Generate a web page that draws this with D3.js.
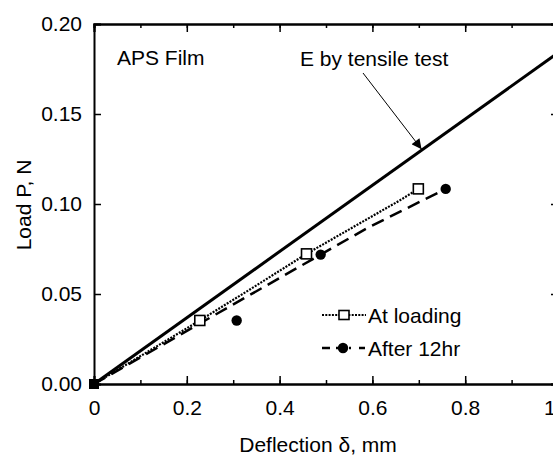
<!DOCTYPE html>
<html><head><meta charset="utf-8">
<script src="https://cdn.jsdelivr.net/npm/d3@7"></script>
<style>
body{margin:0;background:#fff;}
svg{display:block;font-family:"Liberation Sans",Arial,sans-serif;}
</style></head>
<body>
<svg id="c" width="553" height="457"></svg>
<script>
// Data
const xTicks = [0, 0.2, 0.4, 0.6, 0.8, 1.0];
const xTickLabels = ["0", "0.2", "0.4", "0.6", "0.8", "1.0"];
const yTicks = [0, 0.05, 0.10, 0.15, 0.20];
const yTickLabels = ["0.00", "0.05", "0.10", "0.15", "0.20"];
const tensileLine = [[0, 0], [1.0, 0.184]];
const loadingCurve = [[0, 0], [0.228, 0.0353], [0.336, 0.0525], [0.458, 0.0723], [0.659, 0.1020], [0.699, 0.1084]];
const loadingPoints = [[0.228, 0.0353], [0.458, 0.0723], [0.699, 0.1084]];
const after12Curve = [[0, 0], [0.264, 0.0389], [0.4885, 0.0719], [0.588, 0.0865], [0.758, 0.1084]];
const after12Points = [[0.3075, 0.0353], [0.4885, 0.0719], [0.758, 0.1084]];
const originPoint = [[0, 0]];
const seriesNames = ["At loading", "After 12hr"];

const svg = d3.select("#c");
const L = 94, R = 558, T = 24, B = 384;
const x = d3.scaleLinear().domain([0, 1.0]).range([L, R]);
const y = d3.scaleLinear().domain([0, 0.20]).range([B, T]);

const fs = 21;
// axes (inward ticks)
const gB = svg.append("g").attr("transform", `translate(0,${B})`)
  .call(d3.axisBottom(x).tickValues(d3.range(0, 1.01, 0.1)).tickSize(-4).tickFormat(""));
const gB2 = svg.append("g").attr("transform", `translate(0,${B})`)
  .call(d3.axisBottom(x).tickValues(xTicks).tickSize(-8).tickPadding(16).tickFormat((d, i) => xTickLabels[i]));
const gT = svg.append("g").attr("transform", `translate(0,${T})`)
  .call(d3.axisTop(x).tickValues(d3.range(0, 1.01, 0.1)).tickSize(-4).tickFormat(""));
const gT2 = svg.append("g").attr("transform", `translate(0,${T})`)
  .call(d3.axisTop(x).tickValues(xTicks).tickSize(-8).tickFormat(""));
const gL = svg.append("g").attr("transform", `translate(${L},0)`)
  .call(d3.axisLeft(y).tickValues(yTicks).tickSize(-7).tickPadding(12).tickFormat((d, i) => yTickLabels[i]));
const gR = svg.append("g").attr("transform", `translate(${R},0)`)
  .call(d3.axisRight(y).tickValues(yTicks).tickSize(-7).tickFormat(""));
[gB, gB2, gT, gT2, gL, gR].forEach(g => {
  g.select(".domain").attr("stroke", "#000").attr("stroke-width", 2);
  g.selectAll(".tick line").attr("stroke", "#000").attr("stroke-width", 1.5);
  g.selectAll("text").attr("fill", "#000").attr("font-size", fs)
    .attr("font-family", "Liberation Sans, Arial, sans-serif");
});

// titles
svg.append("text").attr("x", 318).attr("y", 452).attr("text-anchor", "middle")
  .attr("font-size", fs).text("Deflection δ, mm");
svg.append("text").attr("transform", "translate(31,205) rotate(-90)").attr("text-anchor", "middle")
  .attr("font-size", fs).text("Load P, N");

// annotations
svg.append("text").attr("x", 117).attr("y", 64.5).attr("font-size", fs).text("APS Film");
svg.append("text").attr("x", 300).attr("y", 66).attr("font-size", fs).text("E by tensile test");
svg.append("defs").append("marker").attr("id", "ah").attr("viewBox", "0 0 10 10")
  .attr("refX", 10).attr("refY", 5).attr("markerWidth", 14).attr("markerHeight", 10)
  .attr("markerUnits", "userSpaceOnUse").attr("orient", "auto")
  .append("path").attr("d", "M0,0 L10,5 L0,10 Z").attr("fill", "#000");
svg.append("line").attr("x1", 363).attr("y1", 73).attr("x2", x(0.706)).attr("y2", y(0.706 * 0.184) - 1)
  .attr("stroke", "#000").attr("stroke-width", 1).attr("marker-end", "url(#ah)");

const line = d3.line().x(d => x(d[0])).y(d => y(d[1]));
// tensile line
svg.append("path").attr("d", line(tensileLine)).attr("fill", "none").attr("stroke", "#000").attr("stroke-width", 3);
// at loading dotted
svg.append("path").attr("d", line(loadingCurve)).attr("fill", "none").attr("stroke", "#000")
  .attr("stroke-width", 2.2).attr("stroke-dasharray", "2,1.3");
// after 12hr dashed
svg.append("path").attr("d", line(after12Curve)).attr("fill", "none").attr("stroke", "#000")
  .attr("stroke-width", 2.5).attr("stroke-dasharray", "13,7");

const sq = 10;
svg.selectAll(".sq").data(loadingPoints).enter().append("rect")
  .attr("x", d => x(d[0]) - sq / 2).attr("y", d => y(d[1]) - sq / 2)
  .attr("width", sq).attr("height", sq).attr("fill", "#fff").attr("stroke", "#000").attr("stroke-width", 1.6);
svg.selectAll(".ci").data(after12Points).enter().append("circle")
  .attr("cx", d => x(d[0])).attr("cy", d => y(d[1])).attr("r", 5.2).attr("fill", "#000");
svg.selectAll(".or").data(originPoint).enter().append("rect")
  .attr("x", d => x(d[0]) - 5).attr("y", d => y(d[1]) - 5).attr("width", 10).attr("height", 10).attr("fill", "#000");

// legend
const lg = svg.append("g");
const ly = [315, 348];
lg.append("line").attr("x1", 322).attr("x2", 366).attr("y1", ly[0]).attr("y2", ly[0])
  .attr("stroke", "#000").attr("stroke-width", 2.2).attr("stroke-dasharray", "2,1.3");
lg.append("rect").attr("x", 344 - 5).attr("y", ly[0] - 4.5).attr("width", 10).attr("height", 9)
  .attr("fill", "#fff").attr("stroke", "#000").attr("stroke-width", 1.6);
lg.append("line").attr("x1", 322).attr("x2", 366).attr("y1", ly[1]).attr("y2", ly[1])
  .attr("stroke", "#000").attr("stroke-width", 2.5).attr("stroke-dasharray", "8,6,8,5,2");
lg.append("circle").attr("cx", 343).attr("cy", ly[1]).attr("r", 5.2).attr("fill", "#000");
seriesNames.forEach((n, i) => {
  lg.append("text").attr("x", 368).attr("y", ly[i] + 7.5).attr("font-size", fs).text(n);
});
</script>
</body></html>
